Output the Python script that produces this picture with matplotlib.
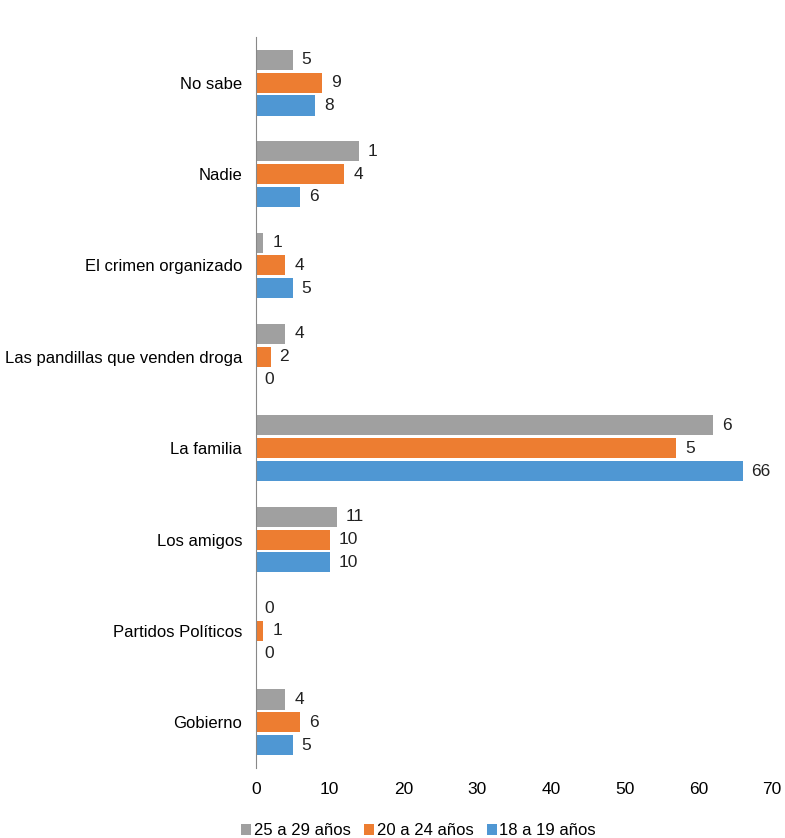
import numpy as np
import matplotlib
matplotlib.use('Agg')
import matplotlib.pyplot as plt

plt.rcParams['font.family'] = ['Liberation Sans', 'DejaVu Sans']

### Data
categories = ['No sabe', 'Nadie', 'El crimen organizado',
              'Las pandillas que venden droga', 'La familia', 'Los amigos',
              'Partidos Políticos', 'Gobierno']
series = ['25 a 29 años', '20 a 24 años', '18 a 19 años']
vals_25_29 = [5, 14, 1, 4, 62, 11, 0, 4]
vals_20_24 = [9, 12, 4, 2, 57, 10, 1, 6]
vals_18_19 = [8, 6, 5, 0, 66, 10, 0, 5]
# value labels as printed in the chart
labels_25_29 = ['5', '1', '1', '4', '6', '11', '0', '4']
labels_20_24 = ['9', '4', '4', '2', '5', '10', '1', '6']
labels_18_19 = ['8', '6', '5', '0', '66', '10', '0', '5']
xticks = [0, 10, 20, 30, 40, 50, 60, 70]

colors = ['#A0A0A0', '#ED7D31', '#4F97D3']

fig = plt.figure(figsize=(7.85, 8.38), dpi=100)
ax = fig.add_axes([256/785, 1 - 768/838, (772-256)/785, (768-37)/838])

y = np.arange(len(categories))
h = 0.22
step = 0.25
valsL = [vals_25_29, vals_20_24, vals_18_19]
labL = [labels_25_29, labels_20_24, labels_18_19]
for i in range(3):
    pos = y + (i - 1) * step
    ax.barh(pos, valsL[i], height=h, color=colors[i], label=series[i])
    for p, v, t in zip(pos, valsL[i], labL[i]):
        ax.text(v + 1.2, p, t, va='center', ha='left', fontsize=12.5, color='#222222')

ax.set_ylim(len(categories) - 0.5, -0.5)
ax.set_xlim(0, 70)
ax.set_yticks(y)
ax.set_yticklabels(categories, fontsize=12)
ax.set_xticks(xticks)
ax.set_xticklabels([str(t) for t in xticks], fontsize=12.5)
ax.tick_params(axis='y', length=0, pad=10)
ax.tick_params(axis='x', length=0, pad=10)
for s in ['top', 'right', 'bottom']:
    ax.spines[s].set_visible(False)
ax.spines['left'].set_color('#888888')

ax.legend(loc='upper center', bbox_to_anchor=(0.315, -0.055), ncol=3,
          frameon=False, fontsize=12, handlelength=0.6, handleheight=0.6,
          handletextpad=0.15, columnspacing=0.8)

fig.savefig('out.png', dpi=100)
